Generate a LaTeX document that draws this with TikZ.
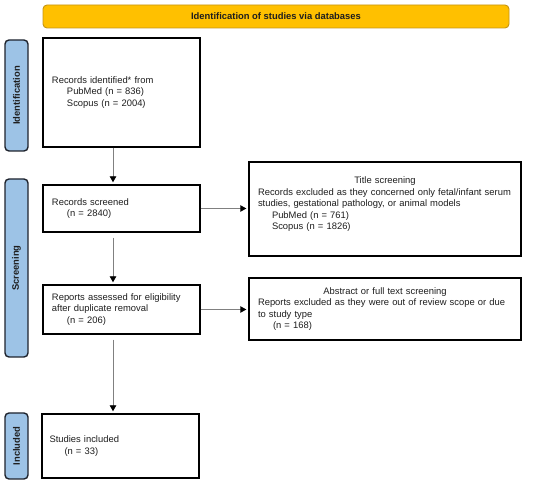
\documentclass[tikz,border=0pt]{standalone}
\usepackage{fontspec}
\setmainfont{Liberation Sans}
\usetikzlibrary{arrows.meta}
\definecolor{bannerfill}{RGB}{255,192,0}
\definecolor{bannerdraw}{RGB}{196,148,20}
\definecolor{labfill}{RGB}{157,195,230}
\definecolor{labdraw}{RGB}{30,35,45}
\definecolor{arrowgray}{RGB}{128,128,128}
\definecolor{textc}{RGB}{30,30,30}
\begin{document}
\begin{tikzpicture}[x=1pt,y=-1pt,
  box/.style={draw=black, line width=1.4pt, fill=white, inner xsep=9pt, inner ysep=0pt,
    align=left, text=textc, font=\fontsize{9.4}{11.5}\selectfont},
  lab/.style={draw=labdraw, line width=1.4pt, fill=labfill, rounded corners=4pt, rotate=90,
    minimum height=23pt, inner sep=0pt, text=textc, font=\bfseries\fontsize{9.4}{11}\selectfont},
  banner/.style={draw=bannerdraw, line width=0.9pt, fill=bannerfill, rounded corners=4pt,
    minimum width=466pt, minimum height=23pt, inner sep=0pt, text=textc,
    font=\bfseries\fontsize{9.4}{11}\selectfont},
  conn/.style={draw=arrowgray, line width=0.9pt, shorten >=2pt,
    -{Triangle[length=6pt,width=6.5pt,black]}}
]
\useasboundingbox (0,0) rectangle (550,486);

\node[banner] (head) at (276,16.5) {Identification of studies via databases};

\node[lab, minimum width=111pt] (idlab) at (16.5,95.5) {Identification};
\node[lab, minimum width=178pt] (scrlab) at (16.5,268) {Screening};
\node[lab, minimum width=66pt] (inclab) at (16.5,446) {Included};

\node[box, minimum width=157pt, minimum height=109pt, text width=139pt] (recid) at (121.5,92.5)
  {Records identified* from\\
   \hspace*{15pt}PubMed (n = 836)\\
   \hspace*{15pt}Scopus (n = 2004)};

\node[box, minimum width=157pt, minimum height=47pt, text width=139pt] (recscr) at (121.5,208.5)
  {Records screened\\
   \hspace*{15pt}(n = 2840)};

\node[box, minimum width=272pt, minimum height=94pt, text width=254pt] (title) at (385,209)
  {\makebox[\linewidth]{Title screening}\\
   \mbox{Records excluded as they concerned only fetal/infant serum}\\
   \mbox{studies, gestational pathology, or animal models}\\
   \hspace*{14pt}PubMed (n = 761)\\
   \hspace*{14pt}Scopus (n = 1826)\\
   \mbox{}};

\node[box, minimum width=157pt, minimum height=49pt, text width=139pt] (reports) at (121.5,309.5)
  {Reports assessed for eligibility\\
   after duplicate removal\\
   \hspace*{15pt}(n = 206)};

\node[box, minimum width=272pt, minimum height=62pt, text width=254pt] (abstract) at (385,309)
  {\makebox[\linewidth]{Abstract or full text screening}\\
   \mbox{Reports excluded as they were out of review scope or due}\\
   to study type\\
   \hspace*{15pt}(n = 168)};

\node[box, inner xsep=7.5pt, minimum width=157pt, minimum height=64pt, text width=142pt] (studies) at (120.5,446)
  {Studies included\\
   \hspace*{15pt}(n = 33)};

\coordinate (ax) at (113,0);
\draw[conn] (recid.south -| ax) -- (recscr.north -| ax);
\draw[conn, shorten <=5pt] (recscr.south -| ax) -- (reports.north -| ax);
\draw[conn, shorten <=5pt] (reports.south -| ax) -- (studies.north -| ax);
\draw[conn] (recscr.east) -- (recscr.east -| title.west);
\draw[conn] (reports.east) -- (reports.east -| abstract.west);
\end{tikzpicture}
\end{document}
